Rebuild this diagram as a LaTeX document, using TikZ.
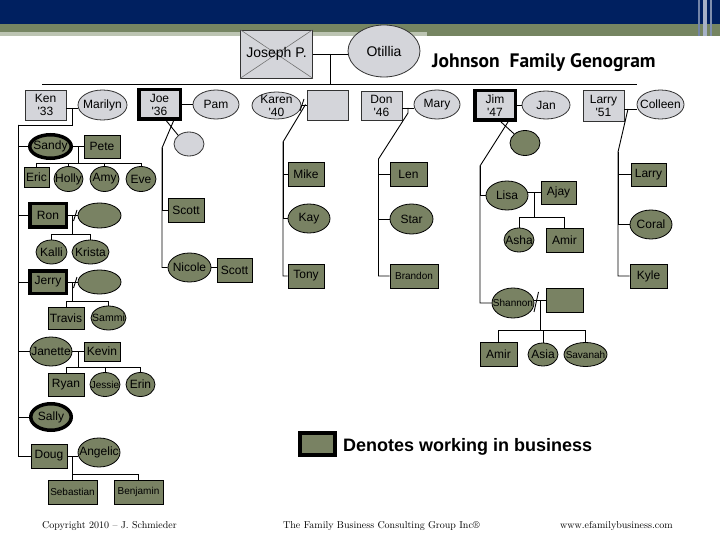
\documentclass[tikz,border=0pt]{standalone}
\usepackage{fontspec}
\newfontfamily\lab{Liberation Sans}
\newfontfamily\titlefont{PT Sans}
\usetikzlibrary{shapes.geometric}
\definecolor{navy}{RGB}{0,32,96}
\definecolor{bandolive}{RGB}{118,133,98}
\definecolor{bandlight}{RGB}{188,196,178}
\definecolor{nodegrey}{RGB}{212,213,218}
\definecolor{nodeolive}{RGB}{121,130,99}
\tikzset{
 gen/.style={inner sep=0pt, line width=0.8pt, font=\lab\fontsize{12}{13}\selectfont, align=center},
 gbox/.style={gen, rectangle, draw=black!80, fill=nodegrey},
 gell/.style={gen, ellipse, draw=black!80, fill=nodegrey},
 obox/.style={gen, rectangle, draw=black, fill=nodeolive},
 oell/.style={gen, ellipse, draw=black, fill=nodeolive},
 heavy/.style={line width=3.5pt, draw=black},
 link/.style={line width=0.9pt, draw=black},
 sz/.style 2 args={minimum width=#1, minimum height=#2},
 every label/.style={inner sep=0pt, font=\lab\fontsize{12}{13}\selectfont, align=center},
 small/.style={font=\lab\fontsize{10}{11}\selectfont},
 big/.style={font=\lab\fontsize{14}{15}\selectfont},
 foot/.style={anchor=west, inner sep=0pt, font=\rmfamily\fontsize{10}{12}\selectfont},
}
\begin{document}
\begin{tikzpicture}[x=1pt,y=-1pt]
\useasboundingbox (0,0) rectangle (720,540);
\fill[white] (0,0) rectangle (720,540);
% header band
\fill[navy] (0,0) rectangle (720,24);
\fill[bandolive] (0,24) rectangle (720,36);
\fill[bandlight] (0,32) rectangle (427,36);
\fill[navy!55!white] (698,0) rectangle (700,36);
\fill[navy!35!white] (703,0) rectangle (707,36);
\fill[navy!50!white] (710,0) rectangle (712,36);

% title
\node[anchor=west, inner sep=0pt, font=\titlefont\bfseries\fontsize{19.5}{22}\selectfont] (title) at (432,63) {Johnson\ \ Family Genogram};

% generation 1
\node[gbox, sz={72}{48}] (joseph) at (276.5,54) {};
\draw[black!55, line width=0.6pt] (joseph.north west) -- (joseph.south east) (joseph.north east) -- (joseph.south west);
\node[big, inner sep=0pt] (josephtxt) at (joseph) {Joseph P.};
\node[gell, sz={72}{52}, label={[big]center:Otillia}] (otillia) at (384,51) {};
\coordinate (jo) at (330,54);
\coordinate (sibL) at (42,84);
\coordinate (sibR) at (637,84);
\draw[link] (joseph.east) -- (otillia.west |- joseph.east);
\draw[link] (jo) -- (jo |- sibL);
\draw[link] (sibL) -- (sibR);

% generation 2
\node[gbox, sz={41}{30}] (ken) at (45.5,105) {Ken\\'33};
\node[gell, sz={49}{30}, label={center:Marilyn}] (marilyn) at (102.5,105) {};
\node[gbox, heavy, sz={41.5}{29.5}] (joe) at (159.5,104.5) {Joe\\'36};
\node[gell, sz={46}{29}, label={center:Pam}] (pam) at (216,104.5) {};
\node[gell, sz={30}{24}] (joeU) at (189,144) {};
\node[gell, sz={49}{27}, label={[align=center]center:{Karen\\'40}}] (karen) at (276.5,105.5) {};
\node[gbox, sz={41}{30}] (karenH) at (327.5,105) {};
\node[gbox, sz={41}{29}] (don) at (381.5,105.5) {Don\\'46};
\node[gell, sz={46}{29}, label={center:Mary}] (mary) at (437,104.5) {};
\node[gbox, heavy, sz={40.5}{29.5}] (jim) at (495,105.5) {Jim\\'47};
\node[gell, sz={48}{28}, label={center:Jan}] (jan) at (546,105) {};
\node[oell, sz={30}{25}] (jimU) at (525,143) {};
\node[gbox, sz={41}{31}] (larry) at (603.5,105.5) {Larry\\'51};
\node[gell, sz={47}{29}, label={center:Colleen}] (colleen) at (660.5,104.5) {};

% Ken's family
\node[oell, heavy, sz={41.5}{23.5}, label={center:Sandy}] (sandy) at (50.5,146.5) {};
\node[obox, sz={36}{23}] (pete) at (102,146.5) {Pete};
\node[obox, sz={25}{20}] (eric) at (36.5,177) {Eric};
\node[oell, sz={29}{25}, label={center:Holly}] (holly) at (68.5,179) {};
\node[oell, sz={29}{25}, label={center:Amy}] (amy) at (104.5,179) {};
\node[oell, sz={30}{25}, label={center:Eve}] (eve) at (141,179) {};
\node[obox, heavy, sz={36.5}{23.5}] (ron) at (48,215.5) {Ron};
\node[oell, sz={43}{25}] (ronW) at (99.5,215.5) {};
\node[oell, sz={31}{24}, label={center:Kalli}] (kalli) at (51.5,252) {};
\node[oell, sz={37}{24}, label={center:Krista}] (krista) at (90.5,252) {};
\node[obox, heavy, sz={36.5}{22.5}] (jerry) at (48,282) {Jerry};
\node[oell, sz={43}{24}] (jerryW) at (99.5,282) {};
\node[obox, sz={36}{22}] (travis) at (66,318) {Travis};
\node[oell, sz={35}{24}, label={[font=\lab\fontsize{10.5}{12}\selectfont]center:Sammi}] (sammi) at (108.5,318) {};
\node[oell, sz={42}{29}, label={center:Janette}] (janette) at (51,351.5) {};
\node[obox, sz={36}{19}] (kevin) at (102,351.5) {Kevin};
\node[obox, sz={36}{23}] (ryan) at (66,384.5) {Ryan};
\node[oell, sz={30}{24}, label={[small]center:Jessie}] (jessie) at (105,384.5) {};
\node[oell, sz={29}{24}, label={center:Erin}] (erin) at (140.5,384.5) {};
\node[oell, heavy, sz={40.5}{26.5}, label={center:Sally}] (sally) at (51,417) {};
\node[obox, sz={36}{24}] (doug) at (49,456) {Doug};
\node[oell, sz={42}{29}, label={center:Angelic}] (angelic) at (99,452.5) {};
\node[obox, sz={49}{24}, small] (sebastian) at (72.5,492) {Sebastian};
\node[obox, sz={49}{24}, small] (benjamin) at (138.5,492) {Benjamin};

\coordinate (kmj) at (72,108);
\coordinate (kt) at (18,125);
\draw[link] (ken.east |- kmj) -- (marilyn.west |- kmj);
\draw[link] (kmj) |- (kt) |- (doug.west);
\foreach \c in {sandy,ron,jerry,janette,sally} \draw[link] (kt) |- (\c.west);

\coordinate (spj) at (78,146.5);
\coordinate (spb) at (78,163);
\draw[link] (sandy.east) -- (pete.west |- sandy.east);
\draw[link] (spj) -- (spb);
\draw[link] (eric.north |- spb) -- (eve.north |- spb);
\foreach \c in {eric,holly,amy,eve} \draw[link] (\c.north |- spb) -- (\c.north);

\coordinate (rj) at (72.7,215.5);
\coordinate (rb) at (72.7,234);
\draw[link] (ron.east) -- (ronW.west);
\draw[link] (73.5,221) -- (77,210);
\draw[link] (rj) -- (rb);
\draw[link] (kalli.north |- rb) -- (krista.north |- rb);
\foreach \c in {kalli,krista} \draw[link] (\c.north |- rb) -- (\c.north);

\coordinate (jj) at (72.7,282);
\coordinate (jb) at (72.7,301);
\draw[link] (jerry.east) -- (jerryW.west);
\draw[link] (73.5,288) -- (77,277);
\draw[link] (jj) -- (jb);
\draw[link] (travis.north |- jb) -- (sammi.north |- jb);
\foreach \c in {travis,sammi} \draw[link] (\c.north |- jb) -- (\c.north);

\coordinate (jkj) at (78,351.5);
\coordinate (jkb) at (78,367);
\draw[link] (janette.east) -- (kevin.west |- janette.east);
\draw[link] (jkj) -- (jkb);
\draw[link] (ryan.north |- jkb) -- (erin.north |- jkb);
\foreach \c in {ryan,jessie,erin} \draw[link] (\c.north |- jkb) -- (\c.north);

\coordinate (daj) at (72,456);
\coordinate (dab) at (72,474);
\draw[link] (doug.east) -- (angelic.west |- doug.east);
\draw[link] (daj) -- (dab);
\draw[link] (sebastian.north |- dab) -- (benjamin.north |- dab);
\foreach \c in {sebastian,benjamin} \draw[link] (\c.north |- dab) -- (\c.north);

% Joe's family
\node[obox, sz={36}{24}] (scott1) at (186,210) {Scott};
\node[oell, sz={43}{29}, label={center:Nicole}] (nicole) at (189.5,267.5) {};
\node[obox, sz={35}{24}] (scott2) at (234.5,270) {Scott};
\coordinate (joeV) at (162,148);
\draw[link] (joe.east) -- (pam.west |- joe.east);
\draw[link] ([xshift=14pt]joe.south) -- (joeV) |- (nicole.west);
\draw[link] (joeV) |- (scott1.west);
\draw[link] ([xshift=7pt]joe.south) -- (joeU.north west);
\draw[link] (nicole.east) -- (scott2.west |- nicole.east);

% Karen's family
\node[obox, sz={36}{24}] (mike) at (306,174) {Mike};
\node[oell, sz={42}{29}, label={center:Kay}] (kay) at (309,218.5) {};
\node[obox, sz={36}{24}] (tony) at (306,276) {Tony};
\coordinate (kj) at (305.5,104.5);
\coordinate (kV) at (283,142);
\draw[link] (karen.east) -- (karenH.west |- karen.east);
\draw[link] (300,111) -- (304,99);
\draw[link] (kj) -- (kV) |- (tony.west);
\draw[link] (kV) |- (mike.west);
\draw[link] (kV) |- (kay.west);

% Don's family
\node[obox, sz={37}{24}] (len) at (408.5,174) {Len};
\node[oell, sz={43}{30}, label={center:Star}] (star) at (411.5,219) {};
\node[obox, sz={48}{24}, small] (brandon) at (414,276) {Brandon};
\coordinate (dj) at (408,108);
\coordinate (dV) at (378.5,159);
\draw[link] (don.east |- dj) -- (mary.west |- dj);
\draw[link] (dj) -- ++(0,5) -- (dV) |- (brandon.west);
\draw[link] (dV) |- (len.west);
\draw[link] (dV) |- (star.west);

% Jim's family
\node[oell, sz={42}{29}, label={center:Lisa}] (lisa) at (507,195.5) {};
\node[obox, sz={35}{23}] (ajay) at (558.5,192.5) {Ajay};
\node[oell, sz={30}{24}, label={center:Asha}] (asha) at (519,240) {};
\node[obox, sz={37}{24}] (amir1) at (564.5,240) {Amir};
\node[oell, sz={42}{30}, label={[small]center:Shannon}] (shannon) at (513,303) {};
\node[obox, sz={37}{24}] (shannonH) at (564.5,300) {};
\node[obox, sz={37}{24}] (amir2) at (498.5,354) {Amir};
\node[oell, sz={30}{23}, label={center:Asia}] (asia) at (543,354.5) {};
\node[oell, sz={43}{24}, label={[small]center:Savanah}] (savanah) at (585.5,354.5) {};
\coordinate (jimV) at (480,166);
\draw[link] (jim.east) -- (jan.west |- jim.east);
\draw[link] ([xshift=13pt]jim.south) -- (jimV) |- (shannon.west);
\draw[link] (jimV) |- (lisa.west);
\draw[link] ([xshift=6pt]jim.south) -- (jimU.north west);
\coordinate (laj) at (534,192.5);
\coordinate (lab) at (534,217);
\draw[link] (lisa.east |- laj) -- (ajay.west);
\draw[link] (laj) -- (lab);
\draw[link] (asha.north |- lab) -- (amir1.north |- lab);
\foreach \c in {asha,amir1} \draw[link] (\c.north |- lab) -- (\c.north);
\coordinate (shj) at (540,300);
\coordinate (shb) at (540,330);
\draw[link] (shannon.east |- shj) -- (shannonH.west);
\draw[link] (534,312) -- (538.5,292);
\draw[link] (shj) -- (shb);
\draw[link] (amir2.north |- shb) -- (savanah.north |- shb);
\foreach \c in {amir2,asia,savanah} \draw[link] (\c.north |- shb) -- (\c.north);

% Larry's family
\node[obox, sz={35}{23}] (larry2) at (648.5,174.5) {Larry};
\node[oell, sz={42}{29}, label={center:Coral}] (coral) at (651,224.5) {};
\node[obox, sz={37}{24}] (kyle) at (648.5,276) {Kyle};
\coordinate (lcj) at (628,109);
\coordinate (lV) at (618,152);
\draw[link] (larry.east |- lcj) -- (colleen.west |- lcj);
\draw[link] (lcj) -- (lV) |- (kyle.west);
\draw[link] (lV) |- (larry2.west);
\draw[link] (lV) |- (coral.west);

% legend
\node[obox, heavy, line width=4pt, sz={35}{22}] (legend) at (317.5,444) {};
\node[anchor=west, inner sep=0pt, font=\lab\bfseries\fontsize{18}{20}\selectfont] (legtext) at (343,447) {Denotes working in business};

% footer
\node[foot] (copy) at (42,526) {Copyright \oldstylenums{2010} -- J. Schmieder};
\node[foot] (fbcg) at (283,526) {The Family Business Consulting Group Inc®};
\node[foot] (web) at (560,526) {www.efamilybusiness.com};
\end{tikzpicture}
\end{document}
